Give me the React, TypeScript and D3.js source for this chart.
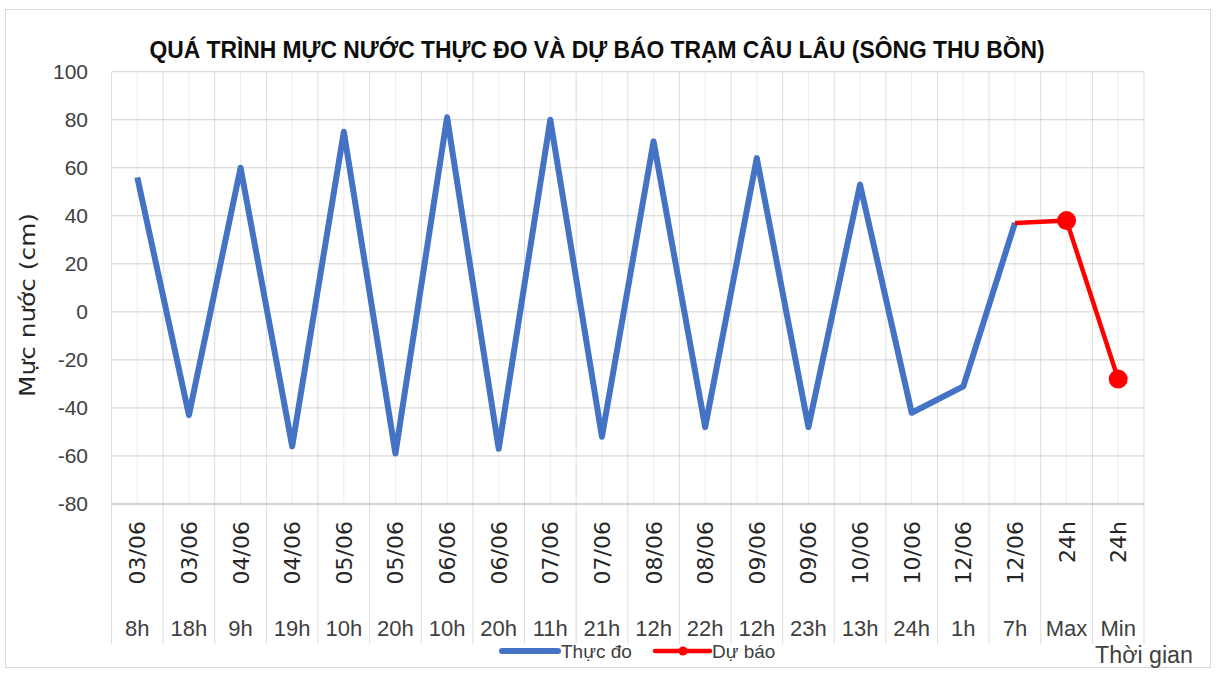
import React from "react";
import * as d3 from "d3";

const dates = ["03/06","03/06","04/06","04/06","05/06","05/06","06/06","06/06","07/06","07/06","08/06","08/06","09/06","09/06","10/06","10/06","12/06","12/06","24h","24h"];
const hours = ["8h","18h","9h","19h","10h","20h","10h","20h","11h","21h","12h","22h","12h","23h","13h","24h","1h","7h","Max","Min"];
const observed: (number | null)[] = [56,-43,60,-56,75,-59,81,-57,80,-52,71,-48,64,-48,53,-42,-31,37,null,null];
const forecast: (number | null)[] = [null,null,null,null,null,null,null,null,null,null,null,null,null,null,null,null,null,37,38,-28];
const forecastMarkers = [18, 19];
const yTicks = [-80,-60,-40,-20,0,20,40,60,80,100];

const W = 1217, H = 673;
const L = 111.5, R = 1144, T = 71.7, B = 504;
const SANS = "'Liberation Sans', Arial, sans-serif";

export default function App() {
  const idx = d3.range(dates.length);
  const x = d3.scaleBand<number>().domain(idx).range([L, R]).padding(0);
  const bw = x.bandwidth();
  const cx = (i: number) => (x(i) as number) + bw / 2;
  const y = d3.scaleLinear().domain([-80, 100]).range([B, T]);

  const line = d3.line<number | null>()
    .defined((d) => d != null)
    .x((_, i) => cx(i))
    .y((d) => y(d as number));

  const boundaries = d3.range(dates.length + 1).map((i) => L + i * bw);
  const minor = idx.map((i) => cx(i));

  return (
    <svg width={W} height={H} style={{ position: "absolute", left: 0, top: 0, background: "#fff" }}>
      <rect x={5.5} y={9.5} width={1205} height={658} fill="#fff" stroke="#d9d9d9" strokeWidth={1} />
      <text x={597} y={58} textAnchor="middle" fontFamily={SANS} fontWeight="bold" fontSize={24} fill="#0d0d0d" textLength={895} lengthAdjust="spacingAndGlyphs">
        QUÁ TRÌNH MỰC NƯỚC THỰC ĐO VÀ DỰ BÁO TRẠM CÂU LÂU (SÔNG THU BỒN)
      </text>

      {/* vertical gridlines */}
      {minor.map((v, i) => (
        <line key={"mn" + i} x1={v} x2={v} y1={T} y2={B} stroke="#ededed" strokeWidth={1} />
      ))}
      {boundaries.map((v, i) => (
        <line key={"bd" + i} x1={v} x2={v} y1={T} y2={644} stroke="#dcdcdc" strokeWidth={1} />
      ))}
      {/* horizontal gridlines */}
      {yTicks.map((t) => (
        <line key={"h" + t} x1={L} x2={R} y1={y(t)} y2={y(t)} stroke={t === -80 ? "#c4c4c4" : "#d0d0d0"} strokeWidth={t === -80 ? 1.5 : 1} />
      ))}
      {yTicks.map((t) => (
        <text key={"yt" + t} x={88} y={y(t)} dy="0.35em" textAnchor="end" fontFamily={SANS} fontSize={21} fill="#404040">
          {t}
        </text>
      ))}
      <text transform={`translate(35,305) rotate(-90)`} textAnchor="middle" fontFamily="'DejaVu Sans', sans-serif" fontSize={22} fill="#262626" textLength={184} lengthAdjust="spacingAndGlyphs">
        Mực nước (cm)
      </text>

      {/* x labels */}
      {dates.map((d, i) => (
        <text key={"d" + i} transform={`translate(${cx(i) + 8},521) rotate(-90)`} textAnchor="end" fontFamily="'DejaVu Sans', sans-serif" fontSize={22} fill="#262626">
          {d}
        </text>
      ))}
      {hours.map((h, i) => (
        <text key={"hr" + i} x={cx(i)} y={636} textAnchor="middle" fontFamily={SANS} fontSize={22} fill="#404040">
          {h}
        </text>
      ))}

      {/* series */}
      <path d={line(observed) || ""} fill="none" stroke="#4472C4" strokeWidth={6} strokeLinejoin="round" strokeLinecap="butt" />
      <path d={line(forecast) || ""} fill="none" stroke="#FF0000" strokeWidth={4.5} strokeLinejoin="round" />
      {forecastMarkers.map((i) => (
        <circle key={"m" + i} cx={cx(i)} cy={y(forecast[i] as number)} r={9.5} fill="#FF0000" />
      ))}

      {/* legend */}
      <line x1={502} x2={558} y1={651} y2={651} stroke="#4472C4" strokeWidth={6} strokeLinecap="round" />
      <text x={561} y={658} fontFamily={SANS} fontSize={19} fill="#404040">Thực đo</text>
      <line x1={655} x2={710} y1={651} y2={651} stroke="#FF0000" strokeWidth={4.5} strokeLinecap="round" />
      <circle cx={683} cy={651} r={4.5} fill="#FF0000" />
      <text x={712} y={658} fontFamily={SANS} fontSize={19} fill="#404040">Dự báo</text>

      <text x={1095} y={663} fontFamily={SANS} fontSize={23} fill="#404040" textLength={98} lengthAdjust="spacingAndGlyphs">Thời gian</text>
    </svg>
  );
}
